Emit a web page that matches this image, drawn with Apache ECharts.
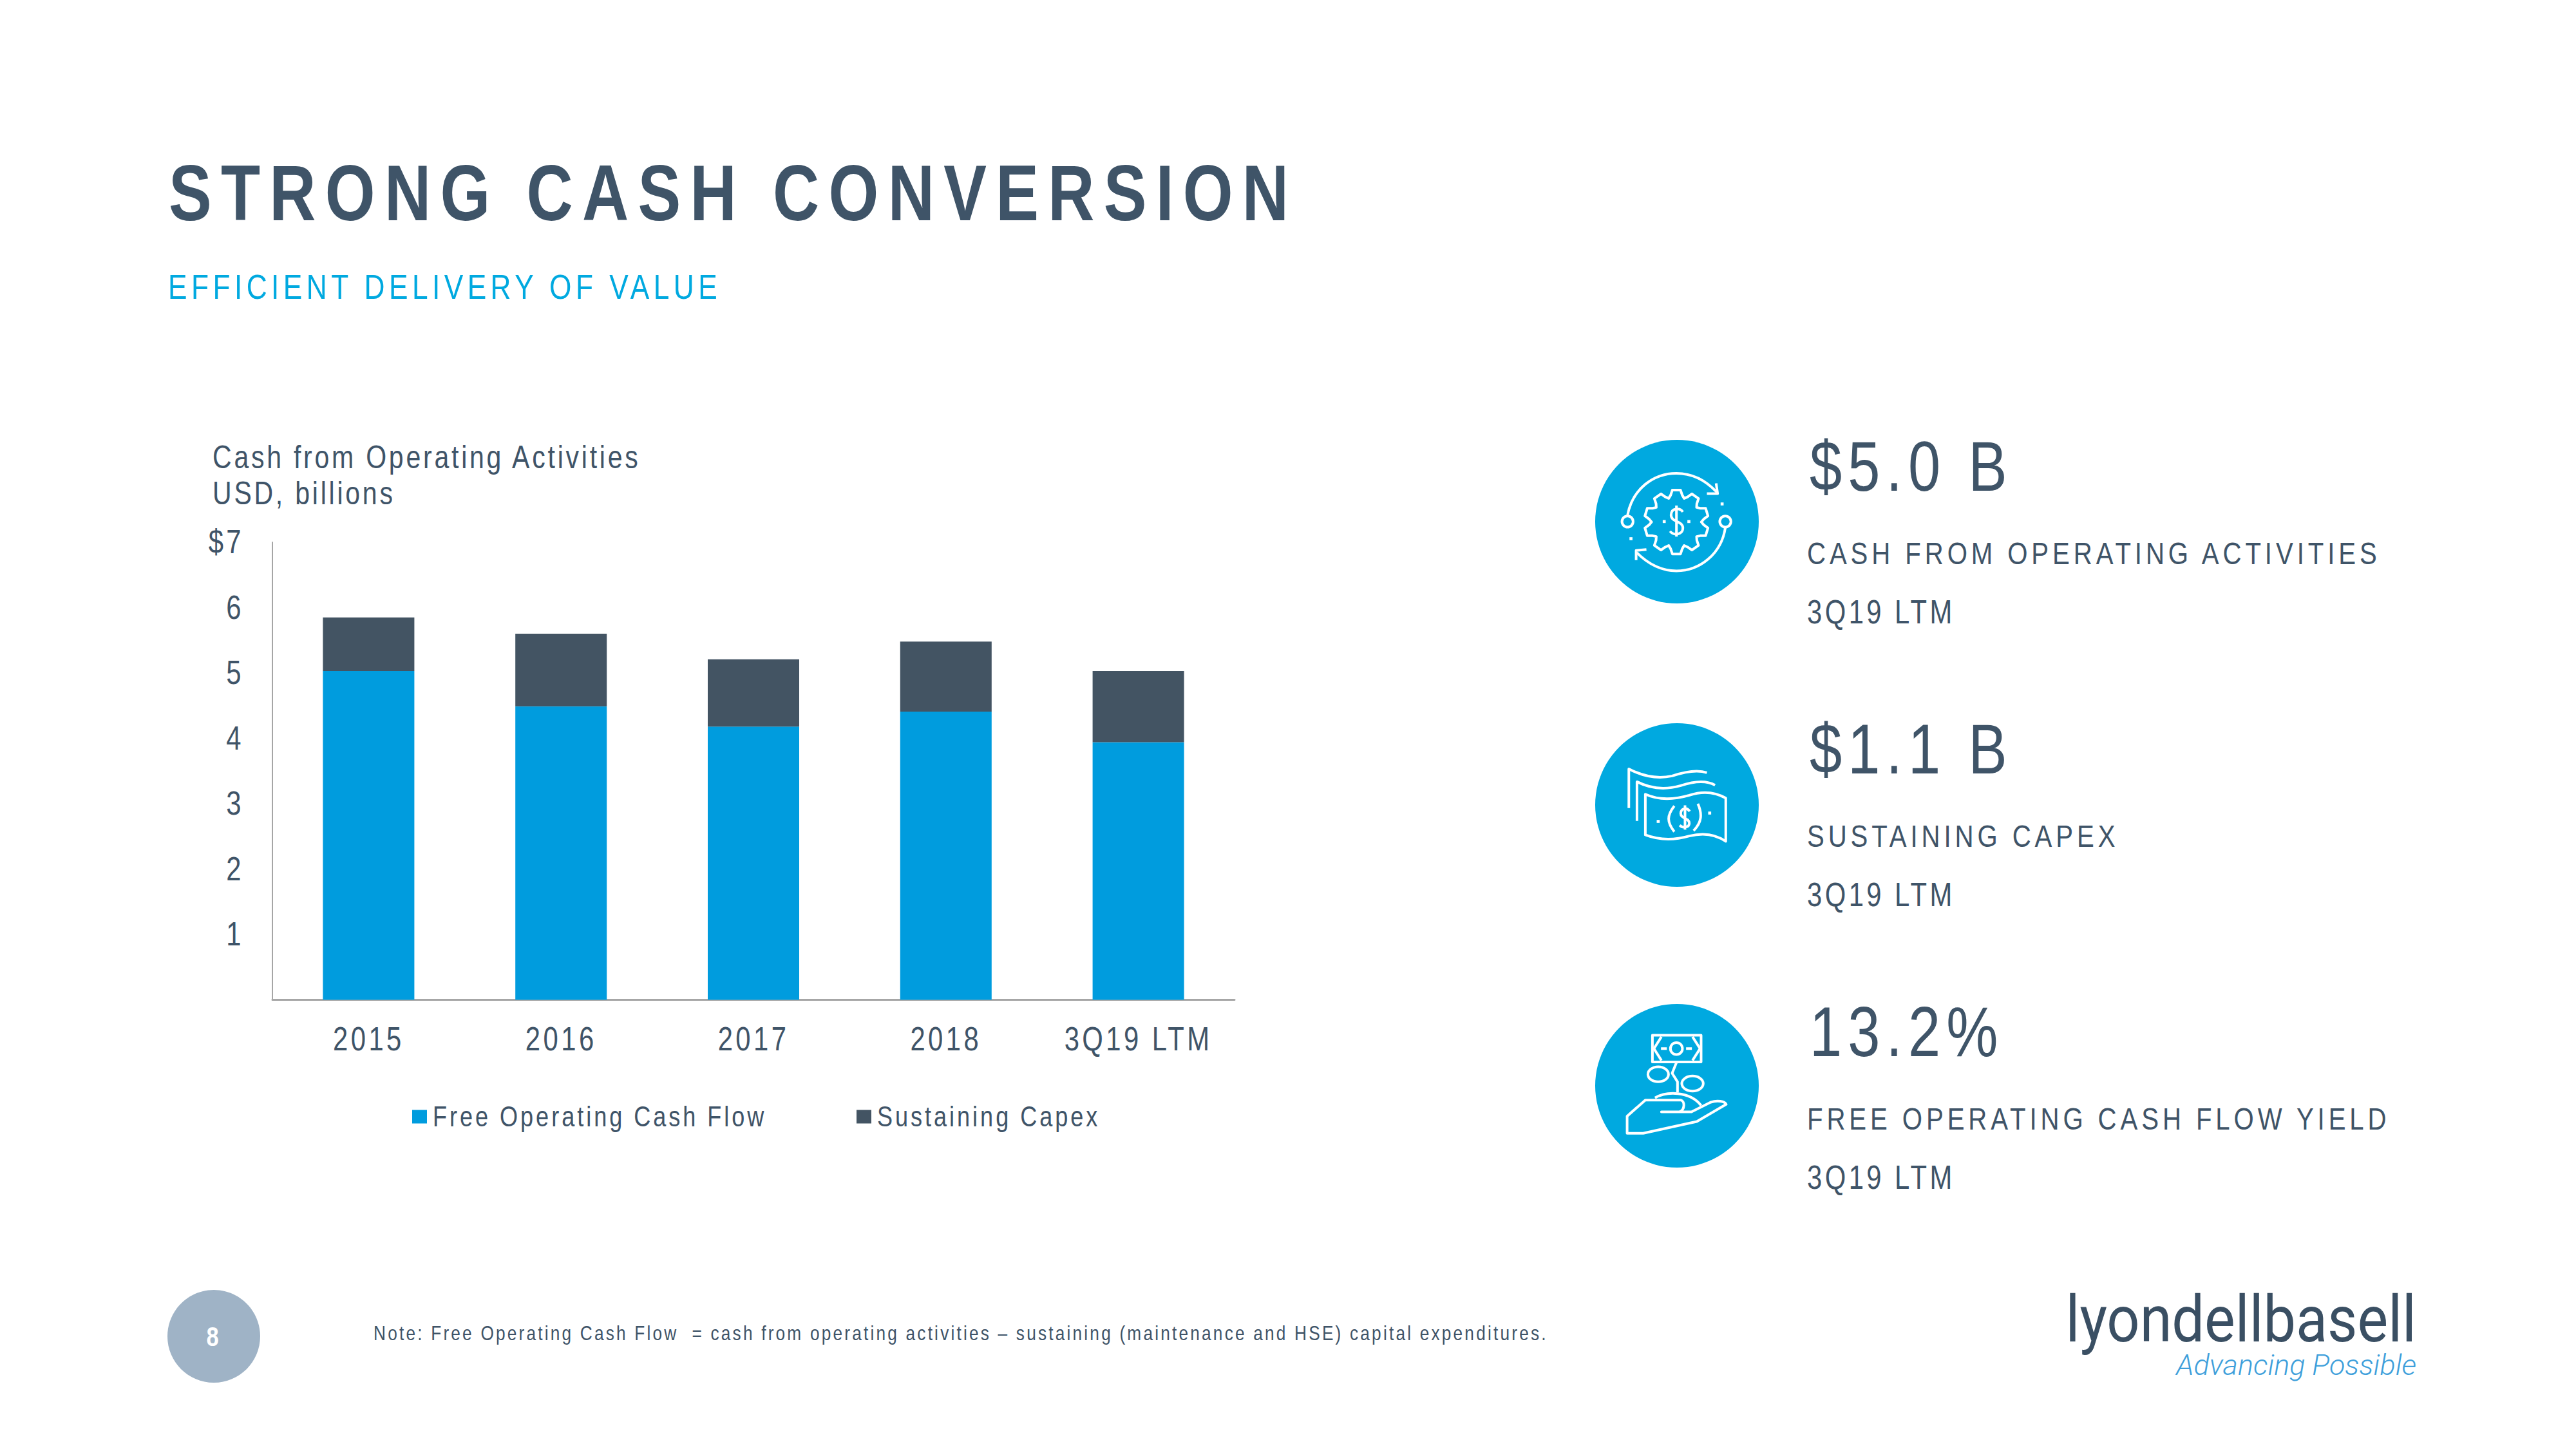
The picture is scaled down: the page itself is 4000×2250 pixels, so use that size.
<!DOCTYPE html>
<html><head><meta charset="utf-8">
<style>
html,body{margin:0;padding:0;background:#fff}
#c{width:4000px;height:2250px}
text[style*="122px"]{letter-spacing:17.4px}
text[style*="54px"]{letter-spacing:7.85px}
text[style*="50px"]{letter-spacing:4.6px}
text[style*="51px"]{letter-spacing:5.4px}
text[style*="49px"]{letter-spacing:7.2px}
text[style*="110px"]{letter-spacing:11.2px}
text[style*="44px"]{letter-spacing:4.85px}
text[style*="32px"]{letter-spacing:3.9px}
</style>
<script src="https://cdn.jsdelivr.net/npm/echarts@6/dist/echarts.min.js"></script>
</head><body><div id="c"></div>
<script>
const categories = ['2015','2016','2017','2018','3Q19 LTM'];
const freeOperatingCashFlow = [5.03,4.49,4.18,4.41,3.94];
const sustainingCapex = [0.82,1.11,1.03,1.07,1.09];
const seriesNames = ['Free Operating Cash Flow','Sustaining Capex'];
const titleText = 'STRONG CASH CONVERSION';
const subtitleText = 'EFFICIENT DELIVERY OF VALUE';
const chartTitleLines = ['Cash from Operating Activities','USD, billions'];
const kpiValues = ['$5.0 B','$1.1 B','13.2%'];
const kpiLabels = ['CASH FROM OPERATING ACTIVITIES','SUSTAINING CAPEX','FREE OPERATING CASH FLOW YIELD'];
const kpiPeriod = '3Q19 LTM';
const noteText = 'Note: Free Operating Cash Flow  = cash from operating activities \u2013 sustaining (maintenance and HSE) capital expenditures.';

const FONT = '"Liberation Sans",Arial,sans-serif';
const INK = '#3F5468', CYAN = '#00A9E0';
const NARROW = 0.82, LOGO_NARROW = 0.9;

function txt(text, x, base, size, o = {}) {
  return { type:'text', x, y: base - size * 0.36, silent:true, z:10,
    style:{ text, fontSize:size, fontFamily:o.family||FONT, fontWeight:o.weight||'normal', fontStyle:o.style||'normal',
      fill:o.fill||INK, textAlign:o.align||'left', textVerticalAlign:'middle' } };
}
let shapeId = 0;
function svgPath(d, style) {
  const name = 'iconPath' + (shapeId++);
  echarts.graphic.registerShape(name, echarts.graphic.extendPath(d, {}));
  return { type:name, style, z:9 };
}
function icon(x, y, paths, dots, rings) {
  const st = { stroke:'#fff', lineWidth:12, fill:'none', lineJoin:'round', lineCap:'butt' };
  return { type:'group', x, y, scaleX:1/3, scaleY:1/3, silent:true, children: [].concat(
    paths.map(d => svgPath(d, st)),
    rings.map(r => ({ type:'ellipse', z:9, shape:{cx:r[0],cy:r[1],rx:r[2],ry:r[3]}, style:st })),
    dots.map(p => ({ type:'rect', z:9, shape:{x:p[0]-7,y:p[1]-7,width:14,height:14}, style:{fill:'#fff'} })) ) };
}
// decorative gear outline for the first icon: ten flat teeth with rounded joins
const gearPoints = [];
for (let i = 0; i < 10; i++) {
  const a = i * Math.PI / 5, step = Math.PI / 5;
  [[-0.2,150],[0.2,150],[0.34,128],[0.5,116],[0.66,128]].forEach(([f,r]) => {
    const t = a + f * step;
    gearPoints.push((490 + r * Math.sin(t)).toFixed(0) + ' ' + (452 - r * Math.cos(t)).toFixed(0));
  });
}
const gear = 'M' + gearPoints.join(' L') + ' Z';
const icons = [
  icon(2440,660,[
    'M262 420 C285 300 380 225 490 225 C560 225 625 255 680 315','M675 272 L682 320 L632 320',
    'M718 478 C700 600 600 680 490 680 C420 680 360 650 305 595','M350 580 L302 585 L302 630',
    gear,
    'M520 405 C505 385 465 385 465 420 C465 455 520 445 520 480 C520 515 475 515 460 495 M490 375 V520'
  ],[[703,368],[278,530],[433,450],[548,450]],[[262,450,26,26],[718,450,26,26]]),
  icon(2440,1100,[
    'M268 465 V282 C330 315 400 330 470 315 C530 295 590 285 632 300',
    'M306 525 V342 C370 375 440 380 510 360 C570 340 630 335 670 358',
    'M345 590 V400 C410 430 480 425 550 405 C610 385 670 390 720 418 V620 C670 585 610 580 550 595 C480 615 410 615 345 590 Z',
    'M480 455 C445 500 445 530 480 575','M570 570 C610 530 610 490 590 445',
    'M552 480 C535 455 510 470 510 490 C510 515 550 510 550 535 C550 555 520 560 505 545 M530 452 V565'
  ],[[405,527],[645,488]],[]),
  icon(2440,1540,[
    'M378 203 H605 V327 H378 Z','M420 210 L385 265 L420 320 M565 210 L600 265 L565 320','M418 265 H445 M535 265 H562',
    'M490 330 L470 380 L495 420 V470','M390 495 C440 465 550 460 605 530',
    'M260 660 V580 L345 505 H510 C530 510 530 550 505 560 H420 H560 L650 515 C680 505 715 510 722 525 L585 605 L335 660 Z'
  ],[],[[490,265,28,28],[405,385,48,35],[565,428,50,35]])
];
const circles = [810,1250,1686].map(cy => ({ type:'circle', shape:{cx:2604,cy,r:127}, style:{fill:CYAN}, silent:true, z:8 }));

const kpiTexts = [];
kpiValues.forEach((v,i) => {
  const dy = i * 439;
  kpiTexts.push(txt(v, 2810, 763+dy, 110));
  kpiTexts.push(txt(kpiLabels[i], 2806, 876+dy, 49));
  kpiTexts.push(txt(kpiPeriod, 2806, 969+dy, 51));
});

const chart = echarts.init(document.getElementById('c'), null, { renderer:'svg', width:4000, height:2250 });
function narrowTexts() {
  document.querySelectorAll('#c svg text').forEach(el => {
    const s = el.getAttribute('style') || '';
    const k = s.includes('Liberation') ? NARROW : s.includes('100px') ? LOGO_NARROW : 0;
    if (el.dataset.sx || !k) return;
    const x = el.getAttribute('x') || 0, tr = el.getAttribute('transform') || '';
    el.setAttribute('transform', `${tr} translate(${x} 0) scale(${k} 1) translate(${-x} 0)`);
    el.dataset.sx = '1';
  });
}
chart.on('finished', narrowTexts);
chart.setOption({
  backgroundColor:'#fff',
  animation:false,
  grid:{ left:423, top:842, width:1494, height:710.5, containLabel:false },
  legend:{ left:635, top:1707, itemWidth:23, itemHeight:21, itemGap:142, icon:'rect', data:seriesNames,
    textStyle:{ fontFamily:FONT, fontSize:44, color:INK, padding:[0,0,0,4] } },
  xAxis:{ type:'category', data:categories,
    axisLine:{ lineStyle:{ color:'#A6A6A6', width:3 } }, axisTick:{ show:false },
    axisLabel:{ fontFamily:FONT, fontSize:51, color:INK, margin:35, interval:0 } },
  yAxis:{ type:'value', min:0, max:7, interval:1,
    axisLine:{ show:true, lineStyle:{ color:'#A6A6A6', width:2 } }, axisTick:{ show:false }, splitLine:{ show:false },
    axisLabel:{ fontFamily:FONT, fontSize:51, color:INK, margin:44,
      formatter:v => v === 0 ? '' : v === 7 ? '$7' : String(v) } },
  series:[
    { name:seriesNames[0], type:'bar', stack:'cash', barWidth:142, data:freeOperatingCashFlow, itemStyle:{ color:'#009CDE' } },
    { name:seriesNames[1], type:'bar', stack:'cash', barWidth:142, data:sustainingCapex, itemStyle:{ color:'#435463' } }
  ],
  graphic:[
    txt(titleText, 262, 344, 122, { weight:'bold' }),
    txt(subtitleText, 261, 464, 54, { fill:CYAN }),
    txt(chartTitleLines[0], 330, 728, 50),
    txt(chartTitleLines[1], 330, 784, 50),
    ...circles, ...icons, ...kpiTexts,
    { type:'ellipse', shape:{cx:332,cy:2075,rx:72,ry:72}, style:{fill:'#9FB3C6'}, silent:true },
    txt('8', 330, 2090, 42, { fill:'#fff', weight:'bold', align:'center' }),
    txt(noteText, 580, 2082, 32),
    txt('lyondellbasell', 3752, 2085, 100, { family:'Roboto', weight:400, align:'right', fill:'#3A4F63' }),
    txt('Advancing Possible', 3752, 2136, 45, { family:'Roboto', weight:300, style:'italic', align:'right', fill:'#3E9FDB' })
  ]
});
narrowTexts();
</script></body></html>
